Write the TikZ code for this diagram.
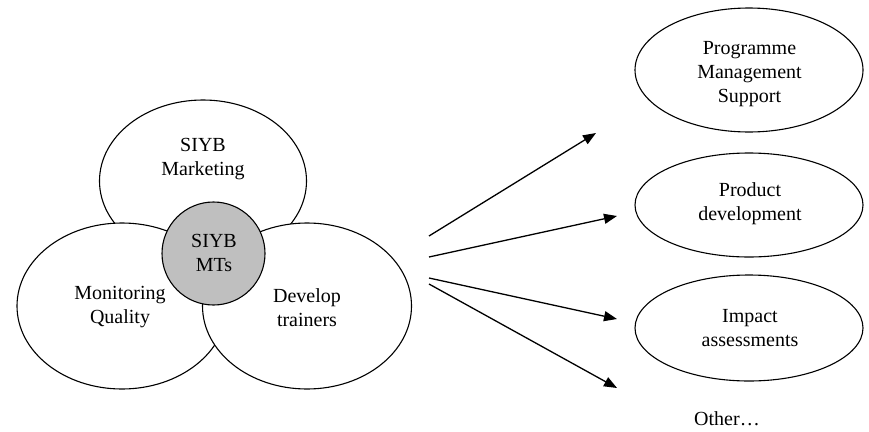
\documentclass[tikz,border=0pt]{standalone}
\usepackage{fontspec}
\setmainfont{Liberation Serif}
\usetikzlibrary{arrows.meta,shapes.geometric}
\begin{document}
\begin{tikzpicture}[x=1pt,y=-1pt,
  lbl/.style={align=center,font=\fontsize{20}{24}\selectfont},
  oval/.style={draw=black,line width=1.1pt,fill=white},
  arr/.style={line width=1.3pt,-{Triangle[length=13pt,width=10pt]}}]
\useasboundingbox (0,0) rectangle (869,431);
% left cluster
\draw[oval] (203,181) ellipse [x radius=103.5,y radius=81];
\draw[oval] (122,306) ellipse [x radius=105,y radius=83];
\draw[oval] (307,306) ellipse [x radius=104.5,y radius=83];
\node[circle,draw=black,line width=1.1pt,fill=black!25,minimum size=103pt,inner sep=0pt] (mt) at (213.5,253.5) {};
\node[lbl] (mkt) at (203,159.5) {SIYB\\Marketing};
\node[lbl] (mon) at (120,307.5) {Monitoring\\Quality};
\node[lbl] (dev) at (307,307.5) {Develop\\trainers};
\node[lbl] (mts) at (214,253) {SIYB\\MTs};
% right ovals
\node[ellipse,draw=black,line width=1.1pt,minimum width=228pt,minimum height=124pt,inner sep=0pt] (pms) at (749,70) {};
\node[lbl] at (749.5,74) {Programme\\Management\\Support};
\node[ellipse,draw=black,line width=1.1pt,minimum width=228pt,minimum height=104pt,inner sep=0pt] (pd) at (749,205) {};
\node[lbl] at (750,203.5) {Product\\development};
\node[ellipse,draw=black,line width=1.1pt,minimum width=228pt,minimum height=106pt,inner sep=0pt] (ia) at (749,328) {};
\node[lbl] at (750,328.5) {Impact\\assessments};
\node[lbl,inner sep=1pt] (oth) at (727,419) {Other…};
% arrows
\coordinate (s1) at (429,236); \coordinate (e1) at (596,133);
\coordinate (s2) at (429,257); \coordinate (e2) at (617,216);
\coordinate (s3) at (429,278); \coordinate (e3) at (617,319);
\coordinate (s4) at (429,284); \coordinate (e4) at (617,388);
\draw[arr] (s1) -- (e1);
\draw[arr] (s2) -- (e2);
\draw[arr] (s3) -- (e3);
\draw[arr] (s4) -- (e4);
\end{tikzpicture}
\end{document}
